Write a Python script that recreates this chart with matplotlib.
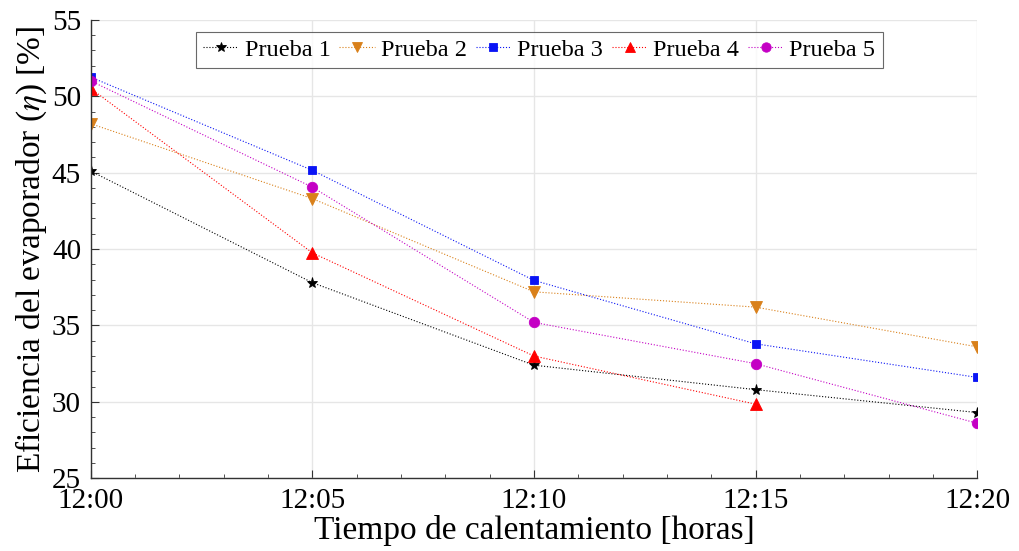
import matplotlib
matplotlib.use("Agg")
import matplotlib.pyplot as plt
from matplotlib.ticker import MultipleLocator

plt.rcParams["font.family"] = ["Liberation Serif", "DejaVu Serif"]
plt.rcParams["mathtext.fontset"] = "stix"

# minutes after 12:00
minutes = [0, 5, 10, 15, 20]
time_labels = ["12:00", "12:05", "12:10", "12:15", "12:20"]

prueba_1 = [45.1, 37.8, 32.4, 30.8, 29.3]
prueba_2 = [48.2, 43.3, 37.2, 36.2, 33.6]
prueba_3 = [51.25, 45.15, 37.95, 33.8, 31.6]
prueba_4 = [50.5, 39.75, 33.0, 29.85]
prueba_5 = [51.0, 44.05, 35.2, 32.5, 28.6]

series = [
    ("Prueba 1", minutes, prueba_1, "black", "*", 8),
    ("Prueba 2", minutes, prueba_2, "#D9801A", "v", 8),
    ("Prueba 3", minutes, prueba_3, "#0A14F5", "s", 6),
    ("Prueba 4", minutes[:4], prueba_4, "#FF0000", "^", 8),
    ("Prueba 5", minutes, prueba_5, "#C400C4", "o", 7.5),
]

fig = plt.figure(figsize=(10.2, 5.51), dpi=100)
ax = fig.add_axes([0.089, 0.132, 0.869, 0.832])

for name, x, y, color, marker, ms in series:
    ax.plot(x, y, linestyle=":", linewidth=0.8, color=color, marker=marker,
            markersize=ms, markeredgewidth=0.6, label=name)

ax.set_xlim(0, 20)
ax.set_ylim(25, 55)
ax.set_xticks(minutes)
ax.set_xticklabels(time_labels)
ax.xaxis.set_minor_locator(MultipleLocator(1))
ax.yaxis.set_major_locator(MultipleLocator(5))
ax.yaxis.set_minor_locator(MultipleLocator(1))
ax.tick_params(which="both", direction="in", labelsize=21, colors="#333333",
               labelcolor="black")
ax.tick_params(which="major", length=6)
ax.tick_params(which="minor", length=3)
ax.tick_params(axis="x", pad=7)
ax.tick_params(axis="y", pad=7)

for side in ("top", "right"):
    ax.spines[side].set_visible(False)
for side in ("left", "bottom"):
    ax.spines[side].set_color("#333333")
    ax.spines[side].set_linewidth(1.0)

ax.grid(True, which="major", color="#E6E6E6", linewidth=1.0)
ax.set_axisbelow(True)

ax.set_xlabel("Tiempo de calentamiento [horas]", fontsize=24, labelpad=1)
ax.set_ylabel(r"Eficiencia del evaporador ($\eta$) [%]", fontsize=24, labelpad=2)

leg = ax.legend(loc="upper center", bbox_to_anchor=(0.506, 0.985), ncol=5,
                fontsize=17.5, frameon=True, fancybox=False, handlelength=1.45,
                handletextpad=0.25, columnspacing=0.37, borderpad=0.3,
                borderaxespad=0.2, markerscale=0.9)
leg.get_frame().set_edgecolor("#444444")
leg.get_frame().set_linewidth(0.8)

fig.savefig("out.png", dpi=100)
